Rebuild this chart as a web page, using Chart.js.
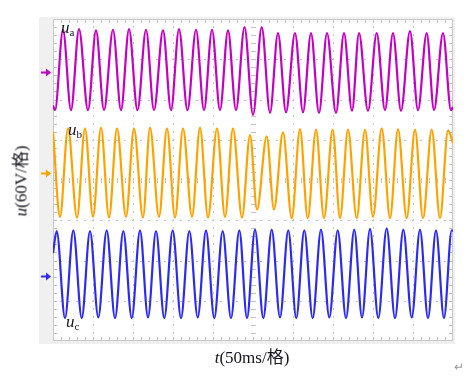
<!DOCTYPE html>
<html>
<head>
<meta charset="utf-8">
<script src="https://cdn.jsdelivr.net/npm/chart.js@4.4.1/dist/chart.umd.min.js"></script>
<style>
  body { margin: 0; background: #fff; }
  #wrap { position: relative; width: 473px; height: 376px; overflow: hidden; }
  canvas { position: absolute; left: 0; top: 0; }
  .lbl { position: absolute; font-family: 'Liberation Serif', 'Times New Roman', 'Noto Sans CJK SC', serif; color: #141420; white-space: nowrap; line-height: 1; font-size: 17px; }
  .lbl i { font-style: italic; }
  .lbl .s { font-size: 11px; position: relative; top: 3px; }
</style>
</head>
<body>
<div id="wrap">
  <canvas id="scope" width="473" height="376"></canvas>
  <div class="lbl" style="left:61px;top:19px"><i>u</i><span class="s">a</span></div>
  <div class="lbl" style="left:68px;top:121px"><i>u</i><span class="s">b</span></div>
  <div class="lbl" style="left:66px;top:313px"><i>u</i><span class="s">c</span></div>
  <div class="lbl" style="left:252px;top:349px;transform:translateX(-50%)"><i>t</i>(50ms/格)</div>
  <div class="lbl" style="left:21px;top:181px;transform:translate(-50%,-50%) rotate(-90deg)"><i>u</i>(60V/格)</div>
  <div class="lbl" style="left:454px;top:361px;font-size:12px;color:#999">↵</div>
</div>
<script>
// time in ms (10 div x 50 ms), voltage in V relative to each channel's ground marker
const tA = [0, 2.5, 12.5, 22.5, 32.5, 43.75, 53.75, 63.75, 75, 85, 95, 105.6, 116.25, 126.25, 137.5, 147.5, 157.5, 168.1, 178.75, 188.75, 198.75, 208.75, 218.75, 228.75, 239.4, 250, 260.9, 271.25, 281.25, 291.25, 302.5, 312.5, 322.5, 332.5, 342.5, 353.75, 363.75, 373.75, 382.5, 393.75, 404.6, 415, 425, 435, 446.25, 456.25, 467.1, 476.25, 487.5, 497.5, 500];
const uA = [-50, -57, 63, -57, 64, -57, 62, -57, 63, -57, 64, -57, 63, -57, 62, -57, 64, -57, 63, -57, 63, -57, 62, -57, 67, -64, 67, -61, 58, -60, 58, -60, 58, -61, 58, -61, 58, -58, 58, -58, 58, -57, 58, -58, 61, -57, 58, -57, 58, -57, -52];

const tB = [0, 8.75, 18.75, 30, 40, 50, 60, 70, 80, 91.25, 101.25, 112.5, 121.25, 132.5, 142.5, 152.5, 162.5, 173.75, 183.75, 193.75, 205, 215, 225, 236.25, 246.25, 255, 267.1, 276.25, 287.5, 298.4, 308.75, 318.4, 328.75, 338.75, 349.6, 358.75, 368.75, 379.6, 390, 400, 410.9, 421.25, 431.25, 442.1, 452.5, 462.5, 473.4, 483.75, 493.75, 500];
const uB = [62, -65, 67, -66, 67, -65, 68, -66, 67, -65, 67, -66, 68, -65, 67, -66, 67, -65, 68, -66, 67, -65, 67, -66, 57, -54, 55, -54, 61, -67, 66, -67, 65, -67, 65, -67, 65, -67, 65, -65, 67, -67, 66, -67, 65, -67, 65, -67, 64, 45];

const tC = [0, 4.6, 15, 25.4, 35.9, 46.25, 56.6, 67.1, 77.5, 87.9, 98.4, 108.75, 118.75, 128.75, 139.1, 149.6, 160, 170.4, 180.9, 191.25, 201.6, 212.1, 222.5, 232.9, 242.5, 252.5, 262.9, 273.4, 283.75, 294.1, 304.1, 314.1, 324.6, 335, 345.4, 355.9, 366.25, 376.6, 386.25, 396.25, 406.6, 417.1, 427.5, 437.9, 448.4, 458.75, 468.75, 478.75, 488.75, 498.4, 500];
const uC = [34, 67, -63, 68, -63, 67, -62, 68, -63, 67, -63, 68, -62, 67, -63, 68, -63, 67, -62, 68, -63, 67, -63, 68, -63, 69, -63, 69, -62, 68, -63, 68, -63, 69, -62, 68, -63, 69, -62, 70, -63, 71, -63, 69, -62, 69, -63, 68, -63, 68, 67];

const channelNames = ['ua', 'ub', 'uc'];
const groundLevels = [161, 10, -143];   // marker position of each channel on the screen (V)
const channelColors = ['#c400c4', '#ffa200', '#2b2bf5'];

const timeRange = [0, 500];      // 50 ms / div
const voltRange = [-240, 240];   // 60 V / div
const minorT = 10;
const minorV = 12;

function toPoints(ts, vs, g) {
    return ts.map((t, i) => ({ x: t, y: vs[i] + g }));
}

const series = [[tA, uA], [tB, uB], [tC, uC]];

const scopeFrame = {
    id: 'scopeFrame',
    beforeDraw(chart) {
        const { ctx, chartArea: a } = chart;
        ctx.save();
        ctx.fillStyle = '#f0f0f0';
        ctx.fillRect(a.left - 14, a.top - 2, a.right - a.left + 16, a.bottom - a.top + 5);
        ctx.fillStyle = '#fff';
        ctx.fillRect(a.left, a.top, a.right - a.left, a.bottom - a.top);
        ctx.restore();
    },
    beforeDatasetsDraw(chart) {
        const { ctx, chartArea: a, scales: { x, y } } = chart;
        const L = Math.round(a.left), R = Math.round(a.right), T = Math.round(a.top), B = Math.round(a.bottom);
        ctx.save();
        ctx.fillStyle = '#c4c4c4';

        // dotted major grid
        for (let t = timeRange[0] + 50; t < timeRange[1]; t += 50) {
            if (t === 250) continue;
            const px = Math.round(x.getPixelForValue(t));
            for (let v = voltRange[0] + minorV; v < voltRange[1]; v += minorV) {
                ctx.fillRect(px, Math.round(y.getPixelForValue(v)) - 1, 1, 2);
            }
        }
        for (let v = voltRange[0] + 60; v < voltRange[1]; v += 60) {
            if (v === 0) continue;
            const py = Math.round(y.getPixelForValue(v));
            for (let t = timeRange[0] + minorT; t < timeRange[1]; t += minorT) {
                ctx.fillRect(Math.round(x.getPixelForValue(t)) - 1, py, 2, 1);
            }
        }

        // centre axes with small ticks
        const cx = Math.round(x.getPixelForValue(250));
        const cy = Math.round(y.getPixelForValue(0));
        for (let t = timeRange[0] + minorT; t < timeRange[1]; t += minorT) {
            ctx.fillRect(Math.round(x.getPixelForValue(t)), cy - 2, 1, 5);
        }
        for (let v = voltRange[0] + minorV; v < voltRange[1]; v += minorV) {
            ctx.fillRect(cx - 2, Math.round(y.getPixelForValue(v)), 5, 1);
        }

        // minor ticks on the frame
        for (let t = timeRange[0] + minorT; t < timeRange[1]; t += minorT) {
            const px = Math.round(x.getPixelForValue(t));
            ctx.fillRect(px, T, 1, 4);
            ctx.fillRect(px, B - 4, 1, 4);
        }
        for (let v = voltRange[0] + minorV; v < voltRange[1]; v += minorV) {
            const py = Math.round(y.getPixelForValue(v));
            ctx.fillRect(L, py, 4, 1);
            ctx.fillRect(R - 4, py, 4, 1);
        }

        // frame
        ctx.strokeStyle = '#c8c8c8';
        ctx.lineWidth = 1;
        ctx.strokeRect(L + 0.5, T + 0.5, R - L - 1, B - T - 1);
        ctx.restore();
    },
    afterDraw(chart) {
        const { ctx, chartArea: a, scales: { y } } = chart;
        ctx.save();
        groundLevels.forEach((g, i) => {
            const py = Math.round(y.getPixelForValue(g)) + 0.5;
            const x0 = a.left - 12;
            ctx.strokeStyle = channelColors[i];
            ctx.fillStyle = channelColors[i];
            ctx.lineWidth = 2;
            ctx.beginPath();
            ctx.moveTo(x0, py);
            ctx.lineTo(x0 + 6, py);
            ctx.stroke();
            ctx.beginPath();
            ctx.moveTo(x0 + 5, py - 4);
            ctx.lineTo(x0 + 10, py);
            ctx.lineTo(x0 + 5, py + 4);
            ctx.closePath();
            ctx.fill();
        });
        ctx.restore();
    }
};

new Chart(document.getElementById('scope'), {
    type: 'line',
    data: {
        datasets: series.map(([ts, vs], i) => ({
            label: channelNames[i],
            data: toPoints(ts, vs, groundLevels[i]),
            borderColor: channelColors[i],
            borderWidth: 2.2,
            pointRadius: 0,
            cubicInterpolationMode: 'monotone',
            fill: false
        }))
    },
    options: {
        responsive: false,
        devicePixelRatio: 1,
        animation: false,
        layout: { padding: { left: 53, right: 20, top: 19, bottom: 35 } },
        plugins: {
            legend: { display: false },
            tooltip: { enabled: false }
        },
        scales: {
            x: { type: 'linear', min: timeRange[0], max: timeRange[1], display: false },
            y: { type: 'linear', min: voltRange[0], max: voltRange[1], display: false }
        }
    },
    plugins: [scopeFrame]
});
</script>
</body>
</html>
